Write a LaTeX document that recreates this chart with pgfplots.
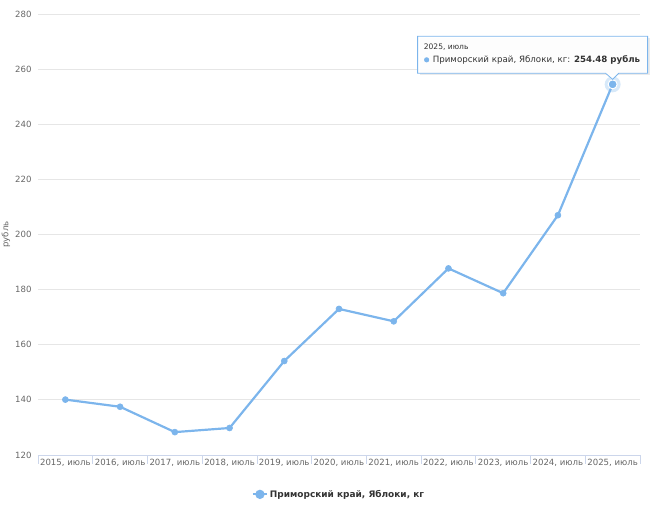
\documentclass[border=0pt]{standalone}
\usepackage{fontspec}
\setmainfont{DejaVu Sans}
\usepackage{pgfplots}
\pgfplotsset{compat=1.18}
\definecolor{ser}{HTML}{7CB5EC}
\definecolor{gridc}{HTML}{E6E6E6}
\definecolor{tickc}{HTML}{666666}
\definecolor{axc}{HTML}{CCD6EB}
\definecolor{txt}{HTML}{333333}
\begin{document}
\begin{tikzpicture}
\path[use as bounding box] (0bp,0bp) rectangle (656bp,521bp);
\begin{axis}[
  at={(38bp,66bp)}, anchor=south west,
  scale only axis, width=602bp, height=441bp,
  xmin=-0.5, xmax=10.5, ymin=120, ymax=280,
  xtick={0,...,10},
  xticklabels={{2015, июль},{2016, июль},{2017, июль},{2018, июль},{2019, июль},{2020, июль},{2021, июль},{2022, июль},{2023, июль},{2024, июль},{2025, июль}},
  ytick={120,140,...,280},
  extra x ticks={-0.5,0.5,...,10.5},
  extra x tick labels={},
  extra x tick style={major tick length=9bp, tick style={draw=axc, line width=0.8pt}, tick align=outside},
  major tick length=0pt,
  ymajorgrids, grid style={draw=gridc, line width=0.8pt},
  axis x line*=bottom,
  axis y line*=left,
  axis line style={draw=none},
  /pgf/number format/assume math mode=true,
  ticklabel style={font=\fontsize{8.6}{10}\selectfont, text=tickc},
  xticklabel style={yshift=-1bp},
  yticklabel style={xshift=-3bp},
  clip=false,
  legend style={at={(0.5,-0.07)}, anchor=north, draw=none, font=\fontsize{9}{11}\selectfont\bfseries\color{txt}, legend cell align=left},
  legend image code/.code={\draw[ser, line width=2pt] (0bp,0bp) -- (14bp,0bp); \fill[ser] (7bp,0bp) circle (3.5bp);},
]
\draw[axc, line width=0.8pt] (axis cs:-0.5,120) -- (axis cs:10.5,120);
\node[rotate=90, font=\fontsize{8.6}{10}\selectfont, text=tickc] at ([xshift=-32bp]axis cs:-0.5,200) {рубль};
\addplot[color=ser, line width=2.2pt, mark=*, mark size=3bp, mark options={solid, fill=ser, draw=ser, line width=0.6pt}] coordinates {
(0,140.1) (1,137.5) (2,128.3) (3,129.8) (4,154.1) (5,173.0) (6,168.5) (7,187.7) (8,178.7) (9,207.0) (10,254.48)
};
\addlegendentry{Приморский край, Яблоки, кг}
\fill[ser, opacity=0.3] (axis cs:10,254.48) circle (8bp);
\filldraw[fill=ser, draw=white, line width=1pt] (axis cs:10,254.48) circle (4.5bp);
\begin{scope}[shift={(axis cs:10,254.48)}]
\fill[black, opacity=0.08] (-193bp,9bp) rectangle (37bp,46bp);
\draw[ser, line width=0.8pt, fill=white, fill opacity=0.95] (-195bp,11bp) -- (-7bp,11bp) -- (0bp,5bp) -- (6bp,11bp) -- (35bp,11bp) -- (35bp,48bp) -- (-195bp,48bp) -- cycle;
\node[anchor=west, font=\fontsize{7.6}{9}\selectfont, text=txt, inner sep=0] at (-189bp,37bp) {2025, июль};
\fill[ser] (-186bp,24.5bp) circle (2.6bp);
\node[anchor=west, font=\fontsize{8.7}{10}\selectfont, text=txt, inner sep=0] at (-180bp,24.5bp) {Приморский край, Яблоки, кг: \textbf{254.48 рубль}};
\end{scope}
\end{axis}
\end{tikzpicture}
\end{document}
